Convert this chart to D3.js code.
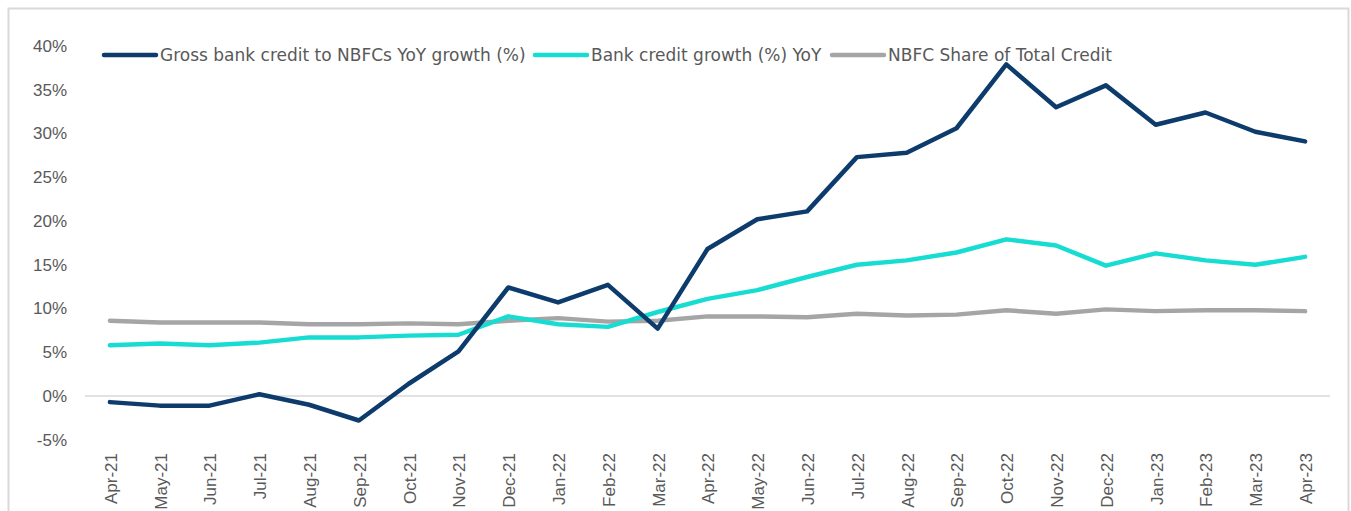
<!DOCTYPE html>
<html>
<head>
<meta charset="utf-8">
<script src="https://cdn.jsdelivr.net/npm/d3@7"></script>
<style>
  body { margin: 0; background: #fff; }
  svg { display: block; font-family: "DejaVu Sans", sans-serif; }
</style>
</head>
<body>
<svg id="chart"></svg>
<script>
const months = ["Apr-21","May-21","Jun-21","Jul-21","Aug-21","Sep-21","Oct-21","Nov-21","Dec-21","Jan-22","Feb-22","Mar-22",
  "Apr-22","May-22","Jun-22","Jul-22","Aug-22","Sep-22","Oct-22","Nov-22","Dec-22","Jan-23","Feb-23","Mar-23","Apr-23"];

const grossNbfc = [-0.7,-1.1,-1.1,0.2,-1.0,-2.8,1.4,5.1,12.4,10.7,12.7,7.7,16.8,20.2,21.1,27.3,27.8,30.6,37.9,33.0,35.5,31.0,32.4,30.2,29.1];
const bankCredit = [5.8,6.0,5.8,6.1,6.7,6.7,6.9,7.0,9.1,8.2,7.9,9.6,11.1,12.1,13.6,15.0,15.5,16.4,17.9,17.2,14.9,16.3,15.5,15.0,15.9];
const nbfcShare = [8.6,8.4,8.4,8.4,8.2,8.2,8.3,8.2,8.6,8.9,8.5,8.6,9.1,9.1,9.0,9.4,9.2,9.3,9.8,9.4,9.9,9.7,9.8,9.8,9.7];

const seriesNames = ["Gross bank credit to NBFCs YoY growth (%)", "Bank credit growth (%) YoY", "NBFC Share of Total Credit"];
const seriesColors = ["#0c3b6c", "#17dcd2", "#a5a5a5"];
const yTicks = [-5, 0, 5, 10, 15, 20, 25, 30, 35, 40];

const W = 1351, H = 511;
const svg = d3.select("#chart").attr("width", W).attr("height", H);

// frame
svg.append("rect")
  .attr("x", 8.5).attr("y", 8.5)
  .attr("width", 1340).attr("height", 520)
  .attr("fill", "none").attr("stroke", "#d9d9d9").attr("stroke-width", 2);

const x = d3.scaleBand().domain(months).range([85, 1330]);
const y = d3.scaleLinear().domain([-5, 40]).range([439.75, 46]);
const xc = d => x(d) + x.bandwidth() / 2;

// y axis labels
const yAxis = svg.append("g")
  .attr("transform", "translate(67,0)")
  .call(d3.axisLeft(y).tickValues(yTicks).tickSize(0).tickPadding(0).tickFormat(d => d + "%"));
yAxis.select(".domain").remove();
yAxis.selectAll("text").attr("fill", "#595959").attr("font-size", 17).attr("font-family", null);

// zero line
svg.append("line")
  .attr("x1", 85).attr("x2", 1330)
  .attr("y1", y(0)).attr("y2", y(0))
  .attr("stroke", "#d9d9d9").attr("stroke-width", 1.5);

// x axis labels
const xAxis = svg.append("g")
  .attr("transform", "translate(1,453)")
  .call(d3.axisBottom(x).tickSize(0).tickPadding(0));
xAxis.select(".domain").remove();
xAxis.selectAll("text")
  .attr("fill", "#595959").attr("font-size", 17).attr("font-family", null)
  .attr("transform", "rotate(-90)")
  .attr("text-anchor", "end")
  .attr("dx", 0).attr("dy", "0.35em")
  .attr("x", 0).attr("y", 0);

const line = d3.line().x((d, i) => xc(months[i])).y(d => y(d));

const allSeries = [nbfcShare, bankCredit, grossNbfc];
const order = [2, 1, 0];
allSeries.forEach((s, k) => {
  svg.append("path")
    .datum(s)
    .attr("d", line)
    .attr("fill", "none")
    .attr("stroke", seriesColors[order[k]])
    .attr("stroke-width", 4.5)
    .attr("stroke-linejoin", "round")
    .attr("stroke-linecap", "round");
});

// legend
const legendX = [104, 535, 832];
const legend = svg.append("g");
seriesNames.forEach((name, i) => {
  legend.append("line")
    .attr("x1", legendX[i]).attr("x2", legendX[i] + 52)
    .attr("y1", 55).attr("y2", 55)
    .attr("stroke", seriesColors[i]).attr("stroke-width", 4.5)
    .attr("stroke-linecap", "round");
  legend.append("text")
    .attr("x", legendX[i] + 56).attr("y", 55)
    .attr("dy", "0.35em")
    .attr("fill", "#595959").attr("font-size", 17)
    .text(name);
});
</script>
</body>
</html>
